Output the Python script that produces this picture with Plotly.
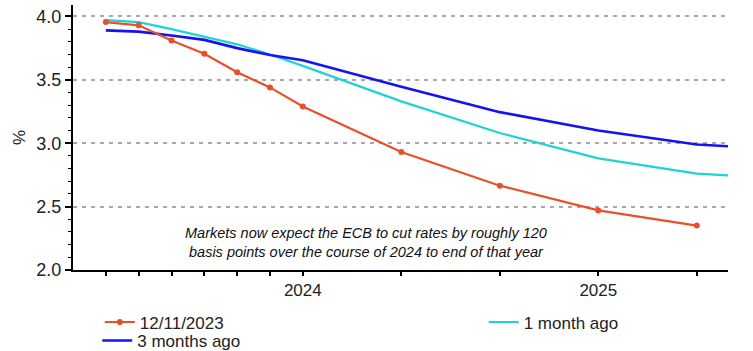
import plotly.graph_objects as go

# x positions of observation points (index units; ticks sit at these positions)
x_points = [0, 1, 2, 3, 4, 5, 6, 9, 12, 15, 18]
tick_text = ["", "", "", "", "", "", "2024", "", "", "2025", ""]

red_vals = [3.955, 3.93, 3.81, 3.705, 3.56, 3.44, 3.29, 2.93, 2.665, 2.47, 2.35]

x_curves = [0, 1, 2, 3, 4, 5, 6, 9, 12, 15, 18, 19]
cyan_vals = [3.97, 3.955, 3.90, 3.84, 3.78, 3.70, 3.61, 3.33, 3.08, 2.88, 2.76, 2.745]
blue_vals = [3.89, 3.88, 3.85, 3.815, 3.75, 3.695, 3.655, 3.445, 3.245, 3.10, 2.99, 2.975]

y_ticks = [2.0, 2.5, 3.0, 3.5, 4.0]

FONT = "Liberation Sans, Arial, sans-serif"
RED = "#e8502a"
CYAN = "#1fd3d3"
BLUE = "#1414f0"

fig = go.Figure()
fig.add_trace(go.Scatter(x=x_curves, y=cyan_vals, mode="lines", name="1 month ago",
                         line=dict(color=CYAN, width=2.2), legend="legend2"))
fig.add_trace(go.Scatter(x=x_curves, y=blue_vals, mode="lines", name="3 months ago",
                         line=dict(color=BLUE, width=2.6), legend="legend3"))
fig.add_trace(go.Scatter(x=x_points, y=red_vals, mode="lines+markers", name="12/11/2023",
                         line=dict(color=RED, width=2.2),
                         marker=dict(color=RED, size=6), legend="legend"))

LEG_FONT = dict(size=17, family=FONT, color="#222")
fig.update_layout(
    width=753, height=351,
    margin=dict(l=73, r=25, t=5, b=81, autoexpand=False),
    paper_bgcolor="white", plot_bgcolor="white",
    font=dict(family=FONT, color="#222222"),
    showlegend=True,
    legend=dict(x=0.041, y=-0.198, xanchor="left", yanchor="middle",
                font=LEG_FONT, bgcolor="rgba(0,0,0,0)"),
    legend2=dict(x=0.627, y=-0.198, xanchor="left", yanchor="middle",
                 font=LEG_FONT, bgcolor="rgba(0,0,0,0)"),
    legend3=dict(x=0.037, y=-0.268, xanchor="left", yanchor="middle",
                 font=LEG_FONT, bgcolor="rgba(0,0,0,0)"),
)

fig.update_xaxes(
    range=[-1, 18.95],
    tickmode="array", tickvals=x_points, ticktext=tick_text,
    ticks="outside", ticklen=4, tickwidth=1.5, tickcolor="black",
    showline=True, linecolor="black", linewidth=2,
    showgrid=False, zeroline=False,
    tickfont=dict(size=17, family=FONT, color="#222"),
)

fig.update_yaxes(
    range=[2.0, 4.09],
    tickmode="array", tickvals=y_ticks, tickformat=".1f",
    ticks="outside", ticklen=6, tickwidth=1.5, tickcolor="black",
    minor=dict(dtick=0.1, ticks="outside", ticklen=3, tickcolor="black", tickwidth=1.2, showgrid=False),
    showline=True, linecolor="black", linewidth=2,
    showgrid=True, gridcolor="#a8a8a8", gridwidth=1.5, griddash="4px,5px",
    zeroline=False,
    tickfont=dict(size=18, family=FONT, color="#222"),
    title=dict(text="%", standoff=6, font=dict(size=17, family=FONT, color="#222")),
    automargin=False,
)

fig.add_annotation(
    x=0.447, y=0.103, xref="paper", yref="paper", yanchor="middle", xanchor="center",
    text="<i>Markets now expect the ECB to cut rates by roughly 120<br>basis points over the course of 2024 to end of that year</i>",
    showarrow=False, align="center",
    font=dict(size=14.5, family=FONT, color="#111"),
)

fig.write_html("out.html")
